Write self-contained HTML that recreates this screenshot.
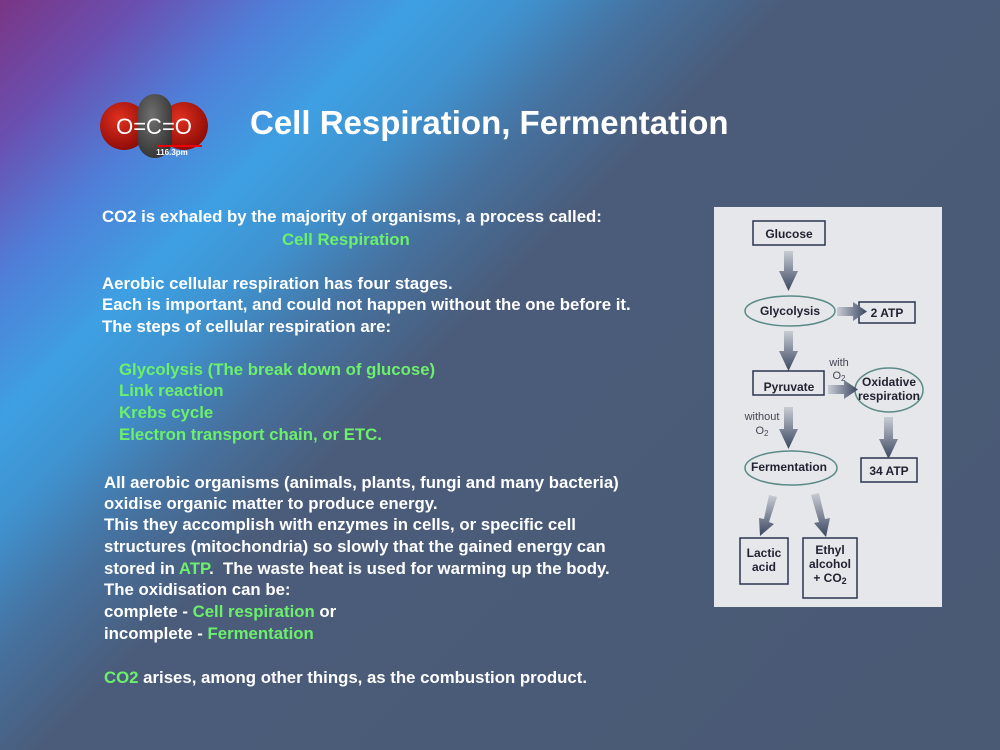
<!DOCTYPE html>
<html><head><meta charset="utf-8"><style>
body{margin:0;width:1000px;height:750px;overflow:hidden;position:relative;font-family:"Liberation Sans",sans-serif;
background:linear-gradient(135deg,#7a3585 0%,#6a4fb0 8%,#4f7fd8 16%,#3ea0e2 24%,#3f92cf 30%,#4672a0 37%,#4a5c7a 45%,#4a5a74 100%);}
.t{position:absolute;color:#fff;font-weight:bold;font-size:16.8px;white-space:nowrap;}
.g{color:#6cf06c}
h1{position:absolute;left:250px;top:104px;margin:0;font-size:33px;color:#fff;font-weight:bold;}
</style></head><body>
<svg style="position:absolute;left:100px;top:90px" width="112" height="70">
<defs><radialGradient id="r" cx="0.4" cy="0.35" r="0.7"><stop offset="0" stop-color="#e03020"/><stop offset="1" stop-color="#8a0a05"/></radialGradient>
<radialGradient id="c" cx="0.4" cy="0.35" r="0.7"><stop offset="0" stop-color="#707070"/><stop offset="1" stop-color="#333"/></radialGradient></defs>
<circle cx="24" cy="36" r="24" fill="url(#r)"/><circle cx="84" cy="36" r="24" fill="url(#r)"/>
<rect x="38" y="4" width="34" height="64" rx="17" fill="url(#c)"/>
<text x="54" y="44" fill="#fff" font-size="22" text-anchor="middle" font-family="Liberation Sans">O=C=O</text>
<line x1="58" y1="56" x2="102" y2="56" stroke="#e00" stroke-width="2"/>
<text x="72" y="65" fill="#fff" font-size="8" font-weight="bold" text-anchor="middle">116.3pm</text>
</svg>
<h1>Cell Respiration, Fermentation</h1>
<div class="t" style="left:102px;top:207px">CO2 is exhaled by the majority of organisms, a process called:</div>
<div class="t g" style="left:282px;top:230px">Cell Respiration</div>
<div class="t" style="left:102px;top:274px">Aerobic cellular respiration has four stages.</div>
<div class="t" style="left:102px;top:295px">Each is important, and could not happen without the one before it.</div>
<div class="t" style="left:102px;top:317px">The steps of cellular respiration are:</div>
<div class="t g" style="left:119px;top:360px">Glycolysis (The break down of glucose)</div>
<div class="t g" style="left:119px;top:381px">Link reaction</div>
<div class="t g" style="left:119px;top:403px">Krebs cycle</div>
<div class="t g" style="left:119px;top:425px">Electron transport chain, or ETC.</div>
<div class="t" style="left:104px;top:473px">All aerobic organisms (animals, plants, fungi and many bacteria)</div>
<div class="t" style="left:104px;top:494px">oxidise organic matter to produce energy.</div>
<div class="t" style="left:104px;top:515px">This they accomplish with enzymes in cells, or specific cell</div>
<div class="t" style="left:104px;top:537px">structures (mitochondria) so slowly that the gained energy can</div>
<div class="t" style="left:104px;top:559px">stored in <span class="g">ATP</span>.&nbsp; The waste heat is used for warming up the body.</div>
<div class="t" style="left:104px;top:580px">The oxidisation can be:</div>
<div class="t" style="left:104px;top:602px">complete - <span class="g">Cell respiration</span> or</div>
<div class="t" style="left:104px;top:624px">incomplete - <span class="g">Fermentation</span></div>
<div class="t" style="left:104px;top:668px"><span class="g">CO2</span> arises, among other things, as the combustion product.</div>
<svg style="position:absolute;left:714px;top:207px" width="228" height="400" font-family="Liberation Sans" font-size="12" font-weight="bold" fill="#223">
<defs><linearGradient id="a" x1="0" y1="0" x2="0" y2="1"><stop offset="0" stop-color="#c8ccd4"/><stop offset="1" stop-color="#3a4660"/></linearGradient>
<linearGradient id="b" x1="0" y1="0" x2="1" y2="0"><stop offset="0" stop-color="#c8ccd4"/><stop offset="1" stop-color="#3a4660"/></linearGradient></defs>
<rect width="228" height="400" fill="#e6e7ea"/>
<g stroke="#2a3550" stroke-width="1.5" fill="none">
<rect x="39" y="14" width="72" height="24"/><rect x="145" y="95" width="56" height="21"/>
<rect x="39" y="164" width="71" height="24"/><rect x="147" y="251" width="56" height="24"/>
<rect x="26" y="331" width="48" height="46"/><rect x="89" y="331" width="54" height="60"/>
</g>
<g stroke="#5a8a88" stroke-width="1.5" fill="none">
<ellipse cx="76" cy="104" rx="45" ry="15"/><ellipse cx="175" cy="183" rx="34" ry="22"/><ellipse cx="77" cy="261" rx="46" ry="17"/>
</g>
<g fill="url(#a)">
<path d="M70 44h9v20h5l-9.5 20l-9.5-20h5z"/><path d="M70 124h9v20h5l-9.5 20l-9.5-20h5z"/>
<path d="M70 200h9v22h5l-9.5 20l-9.5-20h5z"/><path d="M170 210h9v22h5l-9.5 20l-9.5-20h5z"/>
<path d="M55 288l8 2l-8 25l5 2l-14 12l-1-18l5 1z"/><path d="M97 288l8-2l6 26l5-1l-4 19l-12-14l5-1z"/>
</g>
<g fill="url(#b)"><path d="M123 100h16v-5l14 9.5l-14 9.5v-5h-16z"/><path d="M114 178h16v-5l14 9.5l-14 9.5v-5h-16z"/></g>
<g text-anchor="middle">
<text x="75" y="31">Glucose</text><text x="76" y="108">Glycolysis</text><text x="173" y="110">2 ATP</text>
<text x="75" y="184">Pyruvate</text><text x="175" y="179">Oxidative</text><text x="175" y="193">respiration</text>
<text x="75" y="264">Fermentation</text><text x="175" y="268">34 ATP</text>
<text x="50" y="350">Lactic</text><text x="50" y="364">acid</text>
<text x="116" y="347">Ethyl</text><text x="116" y="361">alcohol</text><text x="116" y="375">+ CO<tspan font-size="9" dy="2">2</tspan></text>
</g>
<g font-size="11" font-weight="normal" fill="#445" text-anchor="middle"><text x="125" y="159">with</text><text x="125" y="172">O<tspan font-size="8" dy="2">2</tspan></text>
<text x="48" y="213">without</text><text x="48" y="227">O<tspan font-size="8" dy="2">2</tspan></text></g>
</svg>
</body></html>
